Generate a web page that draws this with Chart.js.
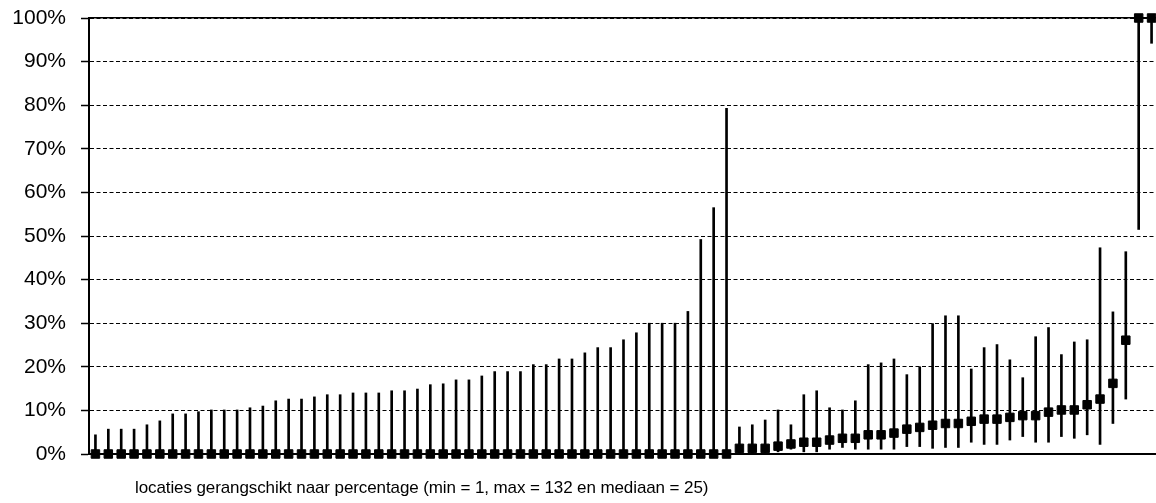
<!DOCTYPE html>
<html>
<head>
<meta charset="utf-8">
<title>locaties gerangschikt naar percentage</title>
<script src="https://cdn.jsdelivr.net/npm/chart.js@4.4.1/dist/chart.umd.min.js"></script>
<style>
  html, body { margin: 0; padding: 0; background: #fff; overflow: hidden; }
  #wrap { position: relative; width: 1156px; height: 503px; overflow: hidden; }
  #chart { display: block; }
  #xtitle {
    position: absolute; left: 135px; top: 478px;
    font: 17px "Liberation Sans", Arial, sans-serif; color: #000; white-space: nowrap;
    letter-spacing: -0.1px;
  }
</style>
</head>
<body>
<div id="wrap">
  <canvas id="chart" width="1158" height="503"></canvas>
  <div id="xtitle">locaties gerangschikt naar percentage (min = 1, max = 132 en mediaan = 25)</div>
</div>
<script>
// one entry per location, sorted by percentage
const locaties = Array.from({length: 83}, (_, i) => i + 1)

const percentage = [
  0, 0, 0, 0, 0, 0, 0, 0, 0, 0,
  0, 0, 0, 0, 0, 0, 0, 0, 0, 0,
  0, 0, 0, 0, 0, 0, 0, 0, 0, 0,
  0, 0, 0, 0, 0, 0, 0, 0, 0, 0,
  0, 0, 0, 0, 0, 0, 0, 0, 0, 0,
  1.3, 1.3, 1.3, 1.8, 2.3, 2.7, 2.7, 3.2, 3.6, 3.6,
  4.4, 4.4, 4.8, 5.7, 6.1, 6.6, 7.0, 7.0, 7.5, 8.0,
  8.0, 8.4, 8.8, 8.8, 9.6, 10.1, 10.1, 11.3, 12.6, 16.2,
  26.1, 100, 100
]

// lower and upper limits of the interval
const ondergrens = [
  0, 0, 0, 0, 0, 0, 0, 0, 0, 0,
  0, 0, 0, 0, 0, 0, 0, 0, 0, 0,
  0, 0, 0, 0, 0, 0, 0, 0, 0, 0,
  0, 0, 0, 0, 0, 0, 0, 0, 0, 0,
  0, 0, 0, 0, 0, 0, 0, 0, 0, 0,
  0, 0, 0, 0.5, 1.1, 0.5, 0.5, 1.1, 1.5, 1.1,
  1.1, 1.1, 1.1, 1.7, 1.7, 1.3, 1.5, 1.5, 2.7, 2.2,
  2.2, 3.2, 4.0, 2.7, 2.7, 4.0, 3.6, 4.4, 2.2, 7.0,
  12.6, 51.5, 94.2
]

const bovengrens = [
  4.4, 5.7, 5.7, 5.7, 6.7, 7.6, 9.2, 9.2, 9.7, 10.1,
  10.1, 10.1, 10.6, 11.0, 12.2, 12.6, 12.6, 13.1, 13.6, 13.6,
  14.0, 14.0, 14.0, 14.5, 14.5, 14.9, 15.9, 16.1, 17.0, 17.0,
  17.9, 18.9, 18.9, 18.9, 20.5, 20.5, 21.8, 21.8, 23.2, 24.4,
  24.4, 26.2, 27.8, 30.0, 30.0, 30.0, 32.7, 49.2, 56.5, 79.3,
  6.2, 6.7, 7.8, 10.1, 6.7, 13.6, 14.5, 10.6, 10.1, 12.2,
  20.5, 20.9, 21.8, 18.2, 20.0, 29.9, 31.7, 31.7, 19.5, 24.4,
  25.1, 21.6, 17.5, 26.9, 29.0, 22.8, 25.7, 26.2, 47.3, 32.6,
  46.4, 100, 100
]

const yTickLabels = ["0%", "10%", "20%", "30%", "40%", "50%", "60%", "70%", "80%", "90%", "100%"]

const font = { family: "'Liberation Sans', Arial, sans-serif", size: 21 }

new Chart(document.getElementById("chart"), {
  type: "bar",
  data: {
    labels: locaties,
    datasets: [
      {
        type: "line",
        label: "percentage",
        data: percentage,
        showLine: false,
        pointStyle: "rect",
        pointRadius: 6,
        pointBorderWidth: 1,
        pointBackgroundColor: "#000",
        pointBorderColor: "#000",
        clip: false,
        order: 0
      },
      {
        label: "interval",
        data: ondergrens.map((lo, i) => [lo, bovengrens[i]]),
        backgroundColor: "#000",
        borderWidth: 0,
        barThickness: 2,
        order: 1
      }
    ]
  },
  options: {
    responsive: false,
    animation: false,
    events: [],
    layout: { autoPadding: false, padding: { top: 18, right: 0, bottom: 0, left: 0 } },
    plugins: {
      legend: { display: false },
      tooltip: { enabled: false }
    },
    scales: {
      x: {
        position: "bottom",
        grid: { display: false, drawTicks: false },
        ticks: { display: false },
        border: { display: true, color: "#000", width: 2 },
        afterFit: s => { s.height = 49 }
      },
      x2: {
        position: "top",
        grid: { display: false, drawTicks: false },
        ticks: { display: false },
        border: { display: true, color: "#000", width: 1.5 },
        afterFit: s => { s.height = 0 }
      },
      y: {
        min: 0,
        max: 100,
        ticks: {
          stepSize: 10,
          color: "#000",
          font: font,
          padding: 15,
          callback: (v, i) => yTickLabels[i]
        },
        grid: {
          color: "#000",
          lineWidth: 1,
          drawTicks: true,
          tickLength: 8,
          tickColor: "#000",
          tickWidth: 1.5
        },
        border: { display: true, color: "#000", width: 2, dash: [4, 2.5] },
        afterFit: s => {
          s.width = 89
          s.paddingTop = 0
          s.paddingBottom = 0
        }
      }
    }
  }
})
</script>
</body>
</html>
